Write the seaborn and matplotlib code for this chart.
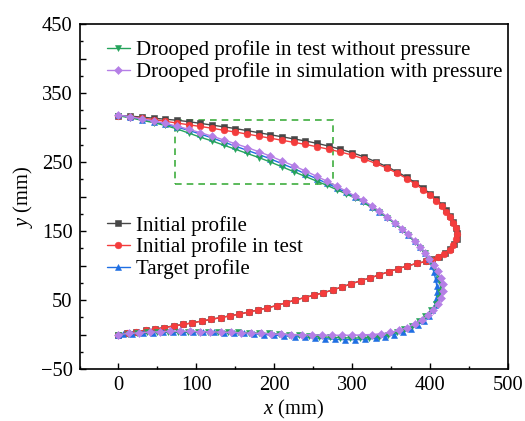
import matplotlib
matplotlib.use("Agg")
import matplotlib.pyplot as plt
from matplotlib.patches import Rectangle
from matplotlib.ticker import MultipleLocator, FuncFormatter
import pandas as pd
import seaborn as sns

# ---- profile coordinates (mm): upper surface from the leading point, then lower surface back ----
initial_x = [0, 15, 30, 45, 60, 75, 90, 105, 120, 135, 150, 165, 180, 195, 210, 225, 240, 255, 270, 285,
             300, 315, 330, 345, 358, 370, 381, 391, 400, 408, 415, 421, 426, 430, 433, 435, 434, 431, 426, 419,
             411, 403, 395,
             383, 371, 359, 347, 335, 323, 311, 299, 287, 275, 263, 251, 239, 227, 215, 203, 191, 179, 167, 155,
             143, 131, 119, 107, 95, 83, 71, 59, 47, 35, 23, 11, 0]
initial_y = [317, 316.5, 315, 313.5, 312, 310.5, 308.5, 306, 303.5, 301, 298.5, 295.5, 292.5, 289.5, 286.5, 283.5,
             280.5, 277, 273, 268.5, 263.5, 257.5, 250.5, 243, 235.5, 228, 220, 212, 204, 196, 188, 180, 172, 163.5,
             155, 147, 139, 131, 124, 118, 113, 109, 106,
             103, 99.5, 95.5, 91, 86.5, 82, 78, 73.5, 69, 64.5, 60.5, 57, 53.5, 50, 46, 42, 38.5, 35.5, 32.5, 29.5,
             27, 24.5, 22, 19.5, 17, 14.5, 12.5, 10, 8, 6, 4, 2, 0]

test_x = [0, 15, 30, 45, 60, 75, 90, 105, 120, 135, 150, 165, 180, 195, 210, 225, 240, 255, 270, 285,
          300, 315, 330, 345, 358, 370, 381, 391, 400, 408, 415, 421, 426, 430, 433, 434, 433, 430, 425, 418,
          410, 402, 395,
          383, 371, 359, 347, 335, 323, 311, 299, 287, 275, 263, 251, 239, 227, 215, 203, 191, 179, 167, 155,
          143, 131, 119, 107, 95, 83, 71, 59, 47, 35, 23, 11, 0]
test_y = [317, 315.5, 313.5, 311.5, 309, 306.5, 304, 301.5, 299, 296, 293.5, 290.5, 287.5, 284.5, 281.5, 278.5,
          275.5, 272, 268.5, 264.5, 260, 254.5, 248, 241, 233.5, 226, 218, 210, 202, 194, 186, 178, 170, 162,
          154, 146, 138, 130, 123, 117, 112, 108.5, 106,
          103, 99.5, 95.5, 91, 86.5, 82, 78, 73.5, 69, 64.5, 60.5, 57, 53.5, 50, 46, 42, 38.5, 35.5, 32.5, 29.5,
          27, 24.5, 22, 19.5, 17, 14.5, 12.5, 10, 8, 6, 4, 2, 0]

target_x = [0, 15, 30, 45, 60, 75, 90, 105, 120, 135, 150, 165, 180, 195, 210, 225, 240, 255, 268, 280,
            292, 303, 314, 325, 335, 345, 355, 364, 372, 380, 387, 393, 398, 402, 405, 407, 408.5, 409, 408, 406,
            403, 398, 392, 384, 375, 365, 354,
            342, 330, 317, 304, 291, 278, 265, 252, 239, 226, 213, 200, 187, 174, 161, 148, 135, 122, 109, 96,
            83, 70, 57, 44, 31, 18, 6, 0]
target_y = [317.5, 315, 311.5, 308, 304.5, 300.5, 296, 290.5, 285, 279, 273, 267, 261, 254.5, 247.5, 240.5,
            233, 225.5, 219, 212.5, 206, 199.5, 193, 185.5, 178, 170, 161.5, 153, 144.5, 135.5, 127, 118, 109,
            99.5, 90, 80.5, 71, 61.5, 52, 43, 35, 27, 20, 13.5, 8, 3.5, 0,
            -3, -5.5, -7, -7.5, -7.5, -7, -6, -5, -4, -3, -2, -1, 0, 1, 1.5, 2, 2.5, 3, 3, 3,
            3, 3, 3, 2.5, 2, 1, 0.5, 0]

drooped_x = [0, 15, 30, 45, 60, 75, 90, 105, 120, 135, 150, 165, 180, 195, 210, 225, 240, 255, 268, 280,
             292, 303, 314, 325, 335, 345, 355, 364, 372, 380, 387, 393, 399, 404, 409, 412, 414, 413, 411, 407,
             401, 394, 386, 377, 367, 357, 346,
             334, 322, 310, 297, 284, 271, 258, 245, 232, 219, 206, 193, 180, 167, 154, 141, 128, 115, 102, 89,
             76, 63, 50, 37, 24, 12, 0]
drooped_y = [317, 314, 310.5, 307, 303, 298, 292, 286, 280.5, 274.5, 268.5, 262.5, 256.5, 250, 243, 236,
             229, 222, 216, 210, 204, 198, 191.5, 184, 177, 169, 160.5, 152, 143.5, 134.5, 126, 117.5, 108.5,
             99.5, 90.5, 81, 71.5, 62, 52.5, 43.5, 35, 27, 19.5, 13, 7.5, 3, -0.5,
             -3, -4.5, -5, -5, -4.5, -4, -3, -2, -1, 0, 1, 1.5, 2, 2.5, 3, 3.5, 4, 4, 4, 4,
             4, 4, 3.5, 3, 2, 1, 0]

sim_x = [0, 15, 30, 45, 60, 75, 90, 105, 120, 135, 150, 165, 180, 195, 210, 225, 240, 255, 268, 280,
         292, 303, 314, 325, 335, 345, 355, 364, 372, 380, 387, 393, 399, 405, 410, 414, 416, 416, 414, 410,
         404, 397, 389, 380, 370, 360, 349,
         337, 325, 313, 300, 287, 274, 261, 248, 235, 222, 209, 196, 183, 170, 157, 144, 131, 118, 105, 92,
         79, 66, 53, 40, 27, 14, 0]
sim_y = [318, 315.5, 312.5, 309.5, 306, 302, 297.5, 292.5, 287.5, 282, 276.5, 271, 265, 258.5, 251.5, 244.5,
         237, 229, 222, 215, 208, 201, 194.5, 186.5, 179, 170.5, 162, 153.5, 145, 136, 127.5, 118.5, 109.5,
         100.5, 91.5, 82, 72.5, 63, 53.5, 44.5, 36, 28, 21, 15, 10, 6, 3,
         1, 0, -0.5, -1, -1, -1, -1, -0.5, -0.5, 0, 0.5, 1, 1.5, 2, 2.5, 3, 3.5, 4, 4, 4.5,
         4.5, 4.5, 4, 3.5, 2.5, 1.5, 0]

labels = ["Initial profile", "Initial profile in test", "Target profile",
          "Drooped profile in test without pressure", "Drooped profile in simulation with pressure"]

# region of interest on the upper surface (x0, y0, width, height), mm
zoom_box = (72, 218, 203, 93)

sns.set_theme(style="ticks", rc={"axes.edgecolor": "black", "text.color": "black",
                                 "xtick.color": "black", "ytick.color": "black",
                                 "axes.labelcolor": "black"})
plt.rcParams["font.family"] = ["Liberation Serif", "DejaVu Serif"]
plt.rcParams["mathtext.fontset"] = "custom"
plt.rcParams["mathtext.rm"] = "Liberation Serif"
plt.rcParams["mathtext.it"] = "Liberation Serif:italic"

FS = 14.8
LFS = 15.0
fig = plt.figure(figsize=(5.25, 4.21), dpi=100)
ax = fig.add_axes([79.5 / 525, 1 - 369 / 421, (508 - 79.5) / 525, (369 - 24) / 421])

styles = [
    (initial_x, initial_y, "s", "#474747", 4.3),
    (test_x, test_y, "o", "#f43c3c", 4.8),
    (target_x, target_y, "^", "#1f6fe3", 5.0),
    (drooped_x, drooped_y, "v", "#24a35b", 5.0),
    (sim_x, sim_y, "D", "#b57fe6", 4.2),
]

handles = []
for (xs, ys, mk, col, ms), lab in zip(styles, labels):
    df = pd.DataFrame({"x": xs, "y": ys})
    sns.lineplot(data=df, x="x", y="y", sort=False, estimator=None, ax=ax, color=col,
                 marker=mk, markersize=ms, markeredgewidth=0.4, markeredgecolor=col,
                 linewidth=1.0, legend=False)
    line = ax.lines[-1]
    line.set_label(lab)
    handles.append(line)

ax.add_patch(Rectangle(zoom_box[:2], zoom_box[2], zoom_box[3], fill=False,
                       edgecolor="#3fae3f", linewidth=1.2, linestyle=(0, (4, 3))))

ax.set_xlim(-50, 500)
ax.set_ylim(-50, 450)
ax.xaxis.set_major_locator(MultipleLocator(100))
ax.xaxis.set_minor_locator(MultipleLocator(50))
ax.yaxis.set_major_locator(MultipleLocator(50))
ax.yaxis.set_minor_locator(MultipleLocator(25))


def fmt(v, pos):
    iv = int(round(v))
    return f"{iv}".replace("-", "\u2212")


def yfmt(v, pos):
    iv = int(round(v))
    if (iv + 50) % 100 == 0:
        return f"{iv}".replace("-", "\u2212")
    return ""


ax.xaxis.set_major_formatter(FuncFormatter(fmt))
ax.yaxis.set_major_formatter(FuncFormatter(yfmt))
ax.tick_params(which="both", direction="in", top=False, right=False, width=1.0,
               labelsize=FS, pad=5)
ax.tick_params(which="major", length=4.5)
ax.tick_params(which="minor", length=2.5)
for sp in ax.spines.values():
    sp.set_linewidth(1.2)
    sp.set_color("black")

ax.set_xlabel(r"$x$ (mm)", fontsize=FS, labelpad=2)
ax.set_ylabel(r"$y$ (mm)", fontsize=FS, labelpad=4)

leg_kw = dict(loc="upper left", frameon=False, borderpad=0, borderaxespad=0,
              handlelength=1.1, handletextpad=0.3, labelspacing=0.08,
              fontsize=LFS, numpoints=1)
leg1 = ax.legend(handles[3:], labels[3:], bbox_to_anchor=(0.0635, 0.952), **leg_kw)
ax.add_artist(leg1)
ax.legend(handles[:3], labels[:3], bbox_to_anchor=(0.0635, 0.444), **leg_kw)

fig.savefig("out.png", dpi=100)
